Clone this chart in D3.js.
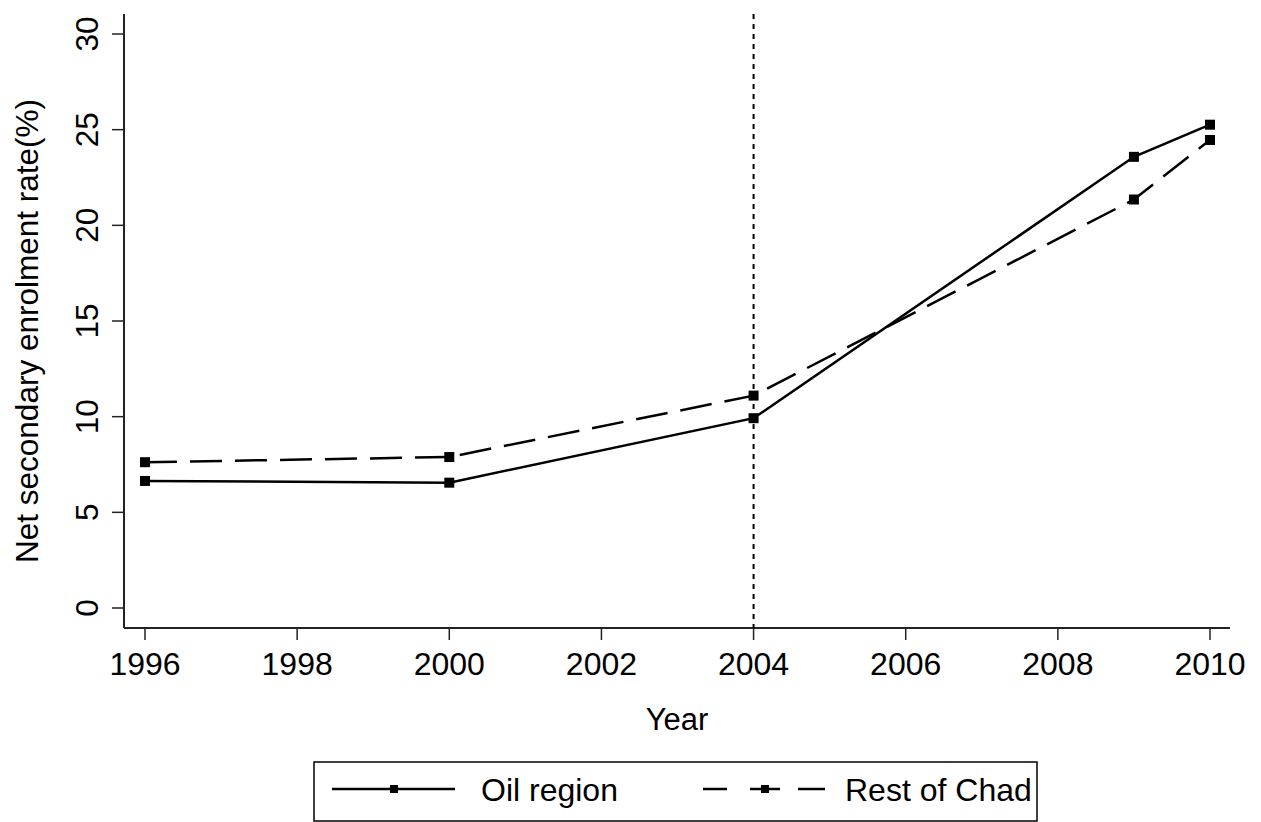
<!DOCTYPE html>
<html>
<head>
<meta charset="utf-8">
<script src="https://cdn.jsdelivr.net/npm/d3@7"></script>
<style>
  body { margin: 0; background: #fff; }
  svg { display: block; font-family: "Liberation Sans", Arial, Helvetica, sans-serif; }
</style>
</head>
<body>
<div id="chart"></div>
<script>
const width = 1261;
const height = 822;

// Data
const years = [1996, 2000, 2004, 2009, 2010];
const oilRegion = [6.64, 6.55, 9.92, 23.58, 25.26];
const restOfChad = [7.62, 7.89, 11.1, 21.35, 24.46];
const xTicks = [1996, 1998, 2000, 2002, 2004, 2006, 2008, 2010];
const yTicks = [0, 5, 10, 15, 20, 25, 30];
const cutoffYear = 2004;

const series = [
    { name: "Oil region", values: oilRegion, dash: null },
    { name: "Rest of Chad", values: restOfChad, dash: "32,13" }
];

const svg = d3.select("#chart").append("svg")
    .attr("width", width)
    .attr("height", height);

// plot area edges
const plotLeft = 124, plotRight = 1230, plotTop = 14, plotBottom = 628;

const x = d3.scaleLinear().domain([1996, 2010]).range([145, 1210]);
const y = d3.scaleLinear().domain([0, 30]).range([608, 34]);

// axes lines
svg.append("line")
    .attr("x1", plotLeft).attr("x2", plotLeft).attr("y1", plotTop).attr("y2", plotBottom)
    .attr("stroke", "#222").attr("stroke-width", 2);
svg.append("line")
    .attr("x1", plotLeft).attr("x2", plotRight).attr("y1", plotBottom).attr("y2", plotBottom)
    .attr("stroke", "#222").attr("stroke-width", 2);

// y ticks
const yt = svg.append("g");
yt.selectAll("line").data(yTicks).join("line")
    .attr("x1", plotLeft - 12).attr("x2", plotLeft)
    .attr("y1", d => y(d)).attr("y2", d => y(d))
    .attr("stroke", "#222").attr("stroke-width", 1.5);
yt.selectAll("text").data(yTicks).join("text")
    .attr("transform", d => `translate(98,${y(d)}) rotate(-90)`)
    .attr("text-anchor", "middle")
    .style("font-size", "31.5px")
    .text(d => d);

// x ticks
const xt = svg.append("g");
xt.selectAll("line").data(xTicks).join("line")
    .attr("x1", d => x(d)).attr("x2", d => x(d))
    .attr("y1", plotBottom).attr("y2", plotBottom + 12)
    .attr("stroke", "#222").attr("stroke-width", 1.5);
xt.selectAll("text").data(xTicks).join("text")
    .attr("x", d => x(d)).attr("y", 675)
    .attr("text-anchor", "middle")
    .style("font-size", "32px")
    .text(d => d);

// axis titles
svg.append("text")
    .attr("x", 677).attr("y", 730)
    .attr("text-anchor", "middle")
    .style("font-size", "31px")
    .text("Year");
svg.append("text")
    .attr("transform", "translate(38,331) rotate(-90)")
    .attr("text-anchor", "middle")
    .style("font-size", "31.5px")
    .text("Net secondary enrolment rate(%)");

// vertical dotted line at 2004
svg.append("line")
    .attr("x1", x(cutoffYear)).attr("x2", x(cutoffYear))
    .attr("y1", plotTop).attr("y2", plotBottom)
    .attr("stroke", "#000").attr("stroke-width", 2)
    .attr("stroke-dasharray", "5,5");

const line = d3.line()
    .x((d, i) => x(years[i]))
    .y(d => y(d));

series.forEach(s => {
    svg.append("path")
        .datum(s.values)
        .attr("d", line)
        .attr("fill", "none")
        .attr("stroke", "#000")
        .attr("stroke-width", 2.5)
        .attr("stroke-dasharray", s.dash);
    svg.append("g").selectAll("rect").data(s.values).join("rect")
        .attr("x", (d, i) => x(years[i]) - 5)
        .attr("y", d => y(d) - 5)
        .attr("width", 10).attr("height", 10)
        .attr("fill", "#000");
});

// legend
const legend = svg.append("g");
legend.append("rect")
    .attr("x", 314).attr("y", 762).attr("width", 723).attr("height", 59)
    .attr("fill", "none").attr("stroke", "#000").attr("stroke-width", 1.5);

const legendItems = [
    { s: series[0], x0: 332, x1: 455, mx: 394, tx: 481, dash: null },
    { s: series[1], x0: 703, x1: 825, mx: 765, tx: 845, dash: "24,23,30,18,27" }
];
legendItems.forEach(it => {
    legend.append("line")
        .attr("x1", it.x0).attr("x2", it.x1).attr("y1", 789).attr("y2", 789)
        .attr("stroke", "#000").attr("stroke-width", 2.5)
        .attr("stroke-dasharray", it.dash);
    legend.append("rect")
        .attr("x", it.mx - 4).attr("y", 785)
        .attr("width", 8).attr("height", 8).attr("fill", "#000");
    legend.append("text")
        .attr("x", it.tx).attr("y", 801)
        .style("font-size", "32px")
        .text(it.s.name);
});
</script>
</body>
</html>
